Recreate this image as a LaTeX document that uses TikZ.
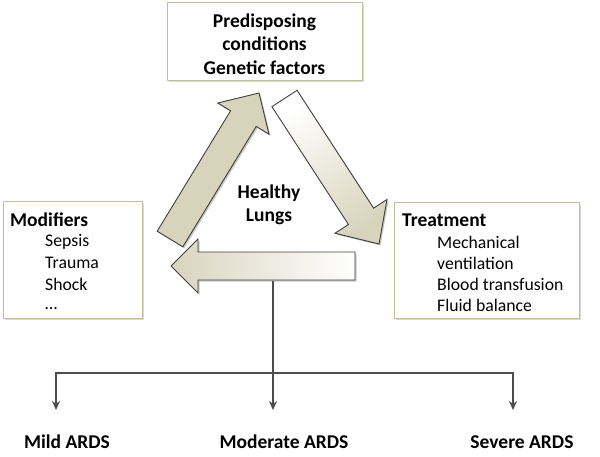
\documentclass[tikz,border=0pt]{standalone}
\usepackage{fontspec}
\setmainfont{Carlito}
\usetikzlibrary{calc,arrows.meta}
\definecolor{tanfill}{HTML}{D8D4BC}
\definecolor{boxline}{HTML}{C4BD97}
\definecolor{edgecol}{HTML}{3F3F3F}
\definecolor{conncol}{HTML}{4D4D4D}

\newcommand{\blockarrow}[7]{%
  \coordinate (#1-tail) at (#2);
  \coordinate (#1-tip) at (#3);
  \coordinate (#1-base) at ($(#1-tip)!#6!(#1-tail)$);
  \coordinate (#1-t1) at ($(#1-tail)!#4!90:(#1-tip)$);
  \coordinate (#1-t2) at ($(#1-tail)!#4!-90:(#1-tip)$);
  \coordinate (#1-b1) at ($(#1-base)!#4!90:(#1-tip)$);
  \coordinate (#1-b2) at ($(#1-base)!#4!-90:(#1-tip)$);
  \coordinate (#1-h1) at ($(#1-base)!#5!90:(#1-tip)$);
  \coordinate (#1-h2) at ($(#1-base)!#5!-90:(#1-tip)$);
  \fill[black,opacity=0.22,transform canvas={shift={(1.5pt,-1.5pt)}}]
    (#1-t1) -- (#1-b1) -- (#1-h1) -- (#1-tip) -- (#1-h2) -- (#1-b2) -- (#1-t2) -- cycle;
  \shade[#7, draw=edgecol, line width=0.9pt, line join=miter]
    (#1-t1) -- (#1-b1) -- (#1-h1) -- (#1-tip) -- (#1-h2) -- (#1-b2) -- (#1-t2) -- cycle;
}

\tikzset{
  infobox/.style={draw=boxline, line width=1pt, fill=white, inner sep=0pt},
  boxshadow/.style={fill=black, opacity=0.15},
  txt/.style={inner sep=0pt, font=\fontsize{17.7}{23.5}\selectfont},
  boldtxt/.style={inner sep=0pt, font=\fontsize{19.5}{23.5}\selectfont\bfseries},
  conn/.style={draw=conncol, line width=1.8pt, -{Stealth[length=9pt,width=8pt]}},
}

\begin{document}
\begin{tikzpicture}[x=1pt,y=-1pt]
\useasboundingbox (0,0) rectangle (600,456);

% shadows for boxes
\fill[boxshadow] (168.5,3.5) rectangle (363.5,81.5);
\fill[boxshadow] (4.5,202.5) rectangle (143.5,319.5);
\fill[boxshadow] (395.5,203.5) rectangle (580.5,319.5);

% boxes
\node[infobox, minimum width=195pt, minimum height=78pt] (topbox) at (264.5,41) {};
\node[infobox, minimum width=139pt, minimum height=117pt] (modbox) at (72.5,259.5) {};
\node[infobox, minimum width=185pt, minimum height=116pt] (treatbox) at (486.5,260) {};

% top box text
\node[boldtxt, align=center] (pred) at (264.5,44) {Predisposing\\conditions\\Genetic factors};

% modifiers text
\node[boldtxt, anchor=west] (modT) at (10,220) {Modifiers};
\node[txt, anchor=west] (mod1) at (45,242) {Sepsis};
\node[txt, anchor=west] (mod2) at (45,263) {Trauma};
\node[txt, anchor=west] (mod3) at (45,284) {Shock};
\node[txt, anchor=base west] (mod4) at (45,309) {…};

% treatment text
\node[boldtxt, anchor=west] (treatT) at (402,220) {Treatment};
\node[txt, anchor=west] (tr1) at (437,242) {Mechanical};
\node[txt, anchor=west] (tr2) at (437,263) {ventilation};
\node[txt, anchor=west] (tr3) at (437,284) {Blood transfusion};
\node[txt, anchor=west] (tr4) at (437,305) {Fluid balance};

% block arrows
\blockarrow{up}{170,239}{259,93}{15pt}{30pt}{30pt}{top color=tanfill, middle color=tanfill!35, bottom color=tanfill, shading angle=-31}
\blockarrow{down}{284.5,98.5}{379,244}{15pt}{31pt}{33pt}{top color=white, bottom color=tanfill, shading angle=33}
\blockarrow{left}{355,266}{171,266}{14pt}{27pt}{27pt}{left color=tanfill, middle color=tanfill!70, right color=white}

% centre text
\node[boldtxt, align=center] (healthy) at (269,205) {Healthy\\Lungs};

% bottom labels
\node[boldtxt] (mild) at (67,442) {Mild ARDS};
\node[boldtxt] (moderate) at (284,442) {Moderate ARDS};
\node[boldtxt] (severe) at (522,442) {Severe ARDS};

% connectors
\coordinate (stem) at (273,281);
\coordinate (split) at (273,373);
\coordinate (tipL) at (56,410);
\coordinate (tipM) at (273,410);
\coordinate (tipR) at (513,410);
\draw[conn] (stem) -- (tipM);
\draw[conn] (split) -| (tipL);
\draw[conn] (split) -| (tipR);
\end{tikzpicture}
\end{document}
